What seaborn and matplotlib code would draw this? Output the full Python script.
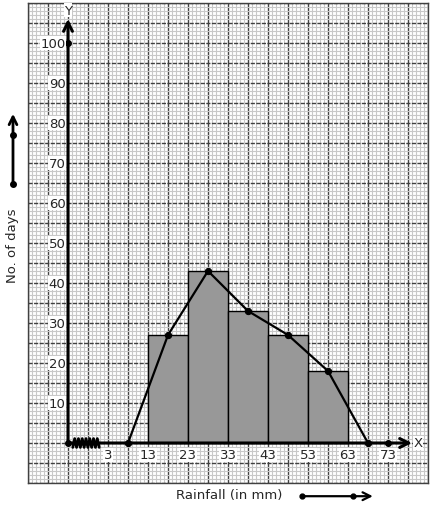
import numpy as np
import pandas as pd
import seaborn as sns
import matplotlib.pyplot as plt
from matplotlib.ticker import FixedLocator, MultipleLocator

# class intervals (lower, upper) and number of days
lower_limits = [13, 23, 33, 43, 53]
upper_limits = [23, 33, 43, 53, 63]
num_days = [27, 43, 33, 27, 18]

# frequency polygon (class marks, including the empty classes on both sides)
polygon_x = [8, 18, 28, 38, 48, 58, 68]
polygon_y = [0, 27, 43, 33, 27, 18, 0]

x_tick_labels = [3, 13, 23, 33, 43, 53, 63, 73]
y_tick_labels = [10, 20, 30, 40, 50, 60, 70, 80, 90, 100]

sns.set_style("white")
plt.rcParams['font.family'] = ['DejaVu Sans']

fig = plt.figure(figsize=(4.34, 5.10), dpi=100)
ax = fig.add_axes([28 / 434, 26 / 510, 400 / 434, 480 / 510])

x0, x1 = -17, 83
y0, y1 = -10, 110
origin = -7
ax.set_xlim(x0, x1)
ax.set_ylim(y0, y1)

# graph paper
ax.xaxis.set_major_locator(FixedLocator(np.arange(x0, x1 + 1, 5)))
ax.yaxis.set_major_locator(FixedLocator(np.arange(y0, y1 + 1, 5)))
ax.xaxis.set_minor_locator(MultipleLocator(1))
ax.yaxis.set_minor_locator(MultipleLocator(1))
ax.grid(which='minor', color='#c8c8c8', lw=0.8)
ax.xaxis.grid(which='major', color='#404040', lw=1.0, ls='-')
ax.yaxis.grid(which='major', color='#404040', lw=1.0, ls=(0, (3, 1)))
ax.set_axisbelow(True)
ax.tick_params(which='both', length=0, labelbottom=False, labelleft=False)
for s in ax.spines.values():
    s.set_color('#404040')
    s.set_linewidth(1.0)

# histogram
df = pd.DataFrame({'mid': [(a + b) / 2 for a, b in zip(lower_limits, upper_limits)],
                   'days': num_days})
sns.histplot(data=df, x='mid', weights='days', bins=lower_limits + [upper_limits[-1]],
             color='#989898', edgecolor='black', linewidth=1.0, alpha=1, ax=ax, zorder=3)

# frequency polygon
poly = pd.DataFrame({'x': polygon_x, 'y': polygon_y})
sns.lineplot(data=poly, x='x', y='y', sort=False, color='black', lw=1.6,
             marker='o', markersize=4.5, markeredgecolor='black', ax=ax, zorder=5)
ax.set_xlabel('')
ax.set_ylabel('')

# axes with arrows
arrow = dict(arrowstyle='->', lw=2.2, color='black', mutation_scale=16,
             shrinkA=0, shrinkB=0)
ax.annotate('', xy=(origin, 106), xytext=(origin, 0), arrowprops=arrow, zorder=6)
ax.annotate('', xy=(79, 0), xytext=(origin, 0), arrowprops=arrow, zorder=6)
ax.plot([origin, origin, 73], [0, 100, 0], 'o', color='black', ms=4, zorder=7)
ax.text(origin, 108.2, 'Y', ha='center', va='center', fontsize=9.5,
        bbox=dict(facecolor='white', edgecolor='none', pad=0.3), zorder=7)
ax.text(80.6, 0, 'X', ha='center', va='center', fontsize=9.5,
        bbox=dict(facecolor='white', edgecolor='none', pad=0.3), zorder=7)

# axis break (zigzag)
zz_x = np.linspace(-5.8, 0.8, 15)
zz_y = np.where(np.arange(15) % 2 == 0, -1.1, 1.1)
ax.plot(zz_x, zz_y, color='black', lw=2.0, zorder=7)

# tick labels
for v in y_tick_labels:
    ax.text(origin - 0.6, v, str(v), ha='right', va='center', fontsize=9.5,
            bbox=dict(facecolor='white', edgecolor='none', pad=0.3), zorder=7)
for v in x_tick_labels:
    ax.text(v, -3.0, str(v), ha='center', va='center', fontsize=9.5,
            bbox=dict(facecolor='white', edgecolor='none', pad=0.3), zorder=7)

# axis titles with little arrows
ax.text(-20.75, 49.5, 'No. of days', rotation=90, ha='center', va='center',
        fontsize=9.5, clip_on=False)
ax.annotate('', xy=(-20.75, 82.3), xytext=(-20.75, 64.7), annotation_clip=False,
            arrowprops=dict(arrowstyle='->', lw=2.0, color='black', mutation_scale=14,
                            shrinkA=0, shrinkB=0))
ax.plot([-20.75, -20.75], [64.7, 77], 'o', color='black', ms=4, clip_on=False)

ax.text(33.2, -13.0, 'Rainfall (in mm)', ha='center', va='center', fontsize=9.5,
        clip_on=False)
ax.annotate('', xy=(69.2, -13.3), xytext=(51.5, -13.3), annotation_clip=False,
            arrowprops=dict(arrowstyle='->', lw=1.6, color='black', mutation_scale=14,
                            shrinkA=0, shrinkB=0))
ax.plot([51.5, 64.3], [-13.3, -13.3], 'o', color='black', ms=3.5, clip_on=False)

fig.savefig('out.png', dpi=100)
